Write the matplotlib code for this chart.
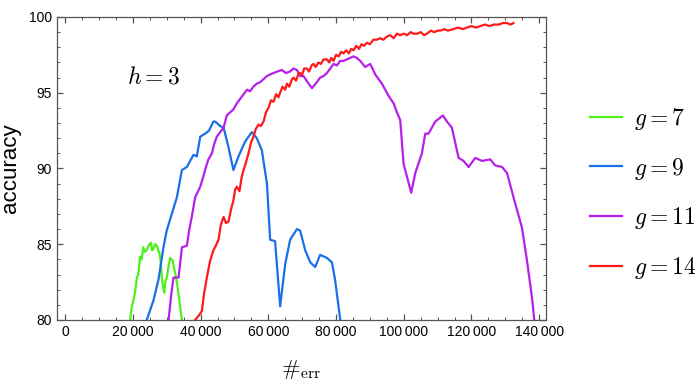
import matplotlib
matplotlib.use("Agg")
import matplotlib.pyplot as plt
from matplotlib.ticker import MultipleLocator, FuncFormatter

plt.rcParams["mathtext.fontset"] = "cm"
plt.rcParams["font.family"] = ["Liberation Sans", "DejaVu Sans"]

# g = 7
g7_x = [19200, 19700, 20200, 20700, 21200, 21600, 22150, 22600, 23100, 23600,
        24100, 24600, 25300, 25700, 26100, 26600, 27100, 27500, 27850, 28200,
        28550, 28900, 29250, 29650, 30050, 30500, 31000, 31400, 31800, 32200,
        32500, 33000, 33500, 34000, 34500]
g7_y = [80.0, 80.9, 81.3, 81.9, 82.8, 83.0, 84.2, 84.0, 84.8, 84.5,
        84.6, 84.9, 85.1, 84.6, 84.7, 85.0, 84.9, 84.6, 84.4, 83.9,
        82.8, 82.2, 81.8, 82.6, 82.8, 83.5, 84.1, 84.0, 83.9, 83.4,
        83.1, 82.5, 81.7, 80.8, 80.0]

# g = 9
g9_x = [24100, 26100, 27600, 29050, 30000, 31500, 33000, 34500, 35950, 37900,
        38900, 39900, 41350, 42500, 43800, 44300, 45800, 46800, 48250, 49700,
        51200, 53200, 55150, 56600, 58100, 59600, 60550, 62000, 63500, 65000,
        66450, 68450, 69400, 70900, 72400, 73850, 75300, 77300, 78800, 79750,
        81250]
g9_y = [80.0, 81.3, 82.7, 84.8, 85.9, 87.0, 88.1, 89.9, 90.1, 90.9,
        90.8, 92.1, 92.3, 92.5, 93.1, 93.1, 92.8, 92.7, 91.4, 89.9,
        90.8, 91.8, 92.4, 92.0, 91.2, 89.0, 85.3, 85.2, 80.9, 83.7,
        85.3, 86.0, 85.9, 84.6, 83.8, 83.5, 84.3, 84.1, 83.8, 82.6,
        80.0]

# g = 11
g11_x = [30550, 31300, 32000, 33500, 34000, 34500, 35950, 36700, 37400, 38400,
         39900, 40850, 41600, 42300, 43350, 44000, 44800, 45800, 46800, 47750,
         48700, 49700, 50700, 51700, 52700, 53700, 54600, 55600, 56600, 57600,
         58600, 59600, 60500, 61500, 62700, 64000, 65200, 66450, 67400, 68450,
         69400, 70400, 71600, 72900, 74350, 75300, 76300, 77300, 78300, 79250,
         80250, 81200, 82200, 83200, 84200, 85150, 86100, 87150, 88600, 90100,
         91600, 93550, 95500, 97000, 98000, 98950, 99950, 100900, 102200, 103400,
         105350, 106350, 107300, 109300, 111550, 112750, 114200, 116200, 117650, 119150,
         121100, 123100, 125550, 127000, 129000, 130500, 132400, 134900, 136400, 137850,
         138550]
g11_y = [80.0, 81.6, 82.8, 82.8, 83.8, 84.8, 84.9, 86.0, 86.8, 88.1,
         88.8, 89.5, 90.1, 90.6, 91.0, 91.6, 92.1, 92.4, 92.7, 93.5,
         93.7, 93.9, 94.3, 94.6, 94.9, 95.2, 95.1, 95.4, 95.6, 95.7,
         95.9, 96.1, 96.2, 96.3, 96.4, 96.5, 96.3, 96.4, 96.6, 96.5,
         96.1, 96.1, 95.7, 95.3, 95.7, 96.0, 96.1, 96.3, 96.6, 96.9,
         96.8, 97.1, 97.1, 97.2, 97.3, 97.4, 97.3, 97.1, 96.7, 96.9,
         96.2, 95.6, 94.8, 94.3, 93.7, 93.2, 90.3, 89.5, 88.4, 89.7,
         91.0, 92.3, 92.3, 93.1, 93.5, 93.1, 92.7, 90.7, 90.5, 90.1,
         90.7, 90.5, 90.6, 90.2, 90.1, 89.7, 88.1, 86.1, 83.9, 81.5,
         80.0]

# g = 14
g14_x = [38400, 39500, 40400, 41000, 41850, 42800, 43800, 44500, 45300, 46000,
         46800, 47500, 48250, 49000, 49700, 50200, 50700, 51500, 52100, 52700,
         53400, 54150, 54900, 55600, 56300, 57100, 57800, 58600, 59300, 60050,
         60800, 61550, 62300, 63000, 63500, 64200, 65000, 65500, 66200, 67000,
         67450, 68200, 69000, 69400, 70000, 70600, 71400, 72000, 72800, 73350,
         74000, 74800, 75500, 76300, 77300, 78000, 78600, 79250, 80000, 80800,
         81500, 82200, 83000, 83800, 84500, 85150, 86000, 86800, 87500, 88300,
         89100, 90000, 91000, 92050, 93000, 94000, 95000, 96000, 97000, 98000,
         98950, 100000, 101000, 102000, 102900, 104000, 105000, 106000, 106850, 108000,
         109000, 110000, 110800, 112000, 113000, 114700, 116000, 117500, 118650, 120000,
         121300, 122600, 124000, 125300, 126500, 128000, 129300, 130500, 131500, 132400]
g14_y = [80.0, 80.3, 80.6, 81.7, 82.8, 83.9, 84.6, 84.9, 85.3, 86.3,
         86.8, 86.4, 86.5, 87.3, 87.9, 88.6, 88.8, 88.5, 89.4, 89.9,
         90.4, 91.0, 91.7, 92.1, 92.6, 92.9, 92.8, 93.1, 93.7, 94.0,
         94.5, 94.4, 94.9, 94.7, 95.0, 95.4, 95.2, 95.6, 95.4, 95.9,
         96.0, 95.8, 96.3, 96.3, 96.2, 96.6, 96.6, 96.4, 96.8, 96.9,
         96.7, 97.0, 96.9, 97.2, 97.2, 97.0, 97.3, 97.1, 97.5, 97.4,
         97.7, 97.6, 97.8, 97.6, 97.9, 97.8, 98.1, 97.9, 98.2, 98.1,
         98.3, 98.2, 98.5, 98.5, 98.6, 98.5, 98.7, 98.8, 98.6, 98.9,
         98.8, 98.9, 98.8, 99.0, 98.9, 98.9, 99.0, 98.8, 98.9, 99.1,
         99.0, 99.1, 99.1, 99.2, 99.1, 99.2, 99.3, 99.2, 99.3, 99.4,
         99.3, 99.4, 99.5, 99.4, 99.5, 99.5, 99.6, 99.6, 99.5, 99.6]

series = [
    (g7_x, g7_y, "#4ef01a", r"$g=7$"),
    (g9_x, g9_y, "#1a70e6", r"$g=9$"),
    (g11_x, g11_y, "#b620e8", r"$g=11$"),
    (g14_x, g14_y, "#ff1a1a", r"$g=14$"),
]

fig = plt.figure(figsize=(7, 3.86), dpi=100)
ax = fig.add_axes([0.0814, 0.171, 0.6986, 0.785])

for xs, ys, c, lab in series:
    ax.plot(xs, ys, color=c, lw=1.6, label=lab, solid_joinstyle="round")

ax.set_xlim(-2400, 142000)
ax.set_ylim(80, 100)

frame = "#555555"
for s in ax.spines.values():
    s.set_color(frame)
    s.set_linewidth(0.9)

ax.xaxis.set_major_locator(MultipleLocator(20000))
ax.xaxis.set_minor_locator(MultipleLocator(5000))
ax.yaxis.set_major_locator(MultipleLocator(5))
ax.yaxis.set_minor_locator(MultipleLocator(1))
ax.xaxis.set_major_formatter(FuncFormatter(lambda v, p: f"{int(v):,}".replace(",", "\u2009")))
ax.tick_params(which="both", direction="in", top=True, right=True, color=frame,
               labelsize=10, labelcolor="black")
ax.tick_params(which="major", length=4.5, width=0.9)
ax.tick_params(which="minor", length=2.5, width=0.7)

ax.set_ylabel("accuracy", fontsize=16)
ax.yaxis.set_label_coords(-0.073, 0.5)
ax.set_xlabel(r"$\#_{\rm err}$", fontsize=16, labelpad=14)

ax.text(26000, 96.0, r"$h=3$", fontsize=17, ha="center", va="center")

fig.legend(loc="upper left", bbox_to_anchor=(0.843, 0.725), frameon=False,
           borderaxespad=0, borderpad=0,
           fontsize=17, handlelength=1.36, handletextpad=0.5, labelspacing=1.0)

fig.savefig("out.png", dpi=100)
